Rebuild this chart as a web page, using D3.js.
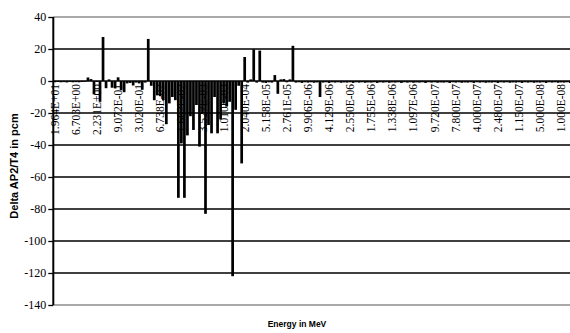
<!DOCTYPE html>
<html><head><meta charset="utf-8">
<script src="https://cdn.jsdelivr.net/npm/d3@7"></script>
<style>
html,body{margin:0;padding:0;background:#fff;}
svg{display:block;}
</style></head>
<body>
<svg id="chart" width="570" height="333"></svg>
<script>
// XMAS 172-group upper energies (MeV)
const energies = [
"1.964E+01","1.733E+01","1.492E+01","1.384E+01","1.162E+01","1.000E+01","8.187E+00","6.703E+00",
"6.065E+00","5.488E+00","4.493E+00","3.679E+00","3.012E+00","2.466E+00","2.231E+00","2.019E+00",
"1.653E+00","1.353E+00","1.225E+00","1.108E+00","1.003E+00","9.072E-01","8.209E-01","6.081E-01",
"5.502E-01","4.979E-01","4.505E-01","4.076E-01","3.020E-01","2.732E-01","2.472E-01","1.832E-01",
"1.228E-01","1.111E-01","8.230E-02","6.738E-02","5.517E-02","4.087E-02","3.698E-02","2.928E-02",
"2.739E-02","2.479E-02","1.662E-02","1.503E-02","1.114E-02","9.119E-03","7.466E-03","5.531E-03",
"5.005E-03","3.527E-03","3.355E-03","2.249E-03","2.035E-03","1.507E-03","1.434E-03","1.234E-03",
"1.010E-03","9.142E-04","7.485E-04","6.773E-04","4.540E-04","3.717E-04","3.043E-04","2.040E-04",
"1.486E-04","1.367E-04","9.166E-05","7.567E-05","6.790E-05","5.560E-05","5.158E-05","4.825E-05",
"4.552E-05","4.017E-05","3.727E-05","3.372E-05","3.051E-05","2.761E-05","2.498E-05","2.260E-05",
"1.945E-05","1.593E-05","1.371E-05","1.122E-05","9.906E-06","9.190E-06","8.315E-06","7.524E-06",
"6.160E-06","5.346E-06","5.043E-06","4.129E-06","4.000E-06","3.381E-06","3.300E-06","2.768E-06",
"2.720E-06","2.600E-06","2.550E-06","2.360E-06","2.130E-06","2.100E-06","2.020E-06","1.930E-06",
"1.840E-06","1.755E-06","1.670E-06","1.590E-06","1.500E-06","1.475E-06","1.445E-06","1.370E-06",
"1.338E-06","1.300E-06","1.235E-06","1.170E-06","1.150E-06","1.125E-06","1.110E-06","1.097E-06",
"1.071E-06","1.045E-06","1.035E-06","1.020E-06","9.960E-07","9.860E-07","9.720E-07","9.500E-07",
"9.300E-07","9.100E-07","8.600E-07","8.500E-07","7.900E-07","7.800E-07","7.050E-07","6.250E-07",
"5.400E-07","5.000E-07","4.850E-07","4.330E-07","4.000E-07","3.910E-07","3.500E-07","3.200E-07",
"3.145E-07","3.000E-07","2.800E-07","2.480E-07","2.200E-07","1.890E-07","1.800E-07","1.600E-07",
"1.400E-07","1.340E-07","1.150E-07","1.000E-07","9.500E-08","8.000E-08","7.700E-08","6.700E-08",
"5.800E-08","5.000E-08","4.200E-08","3.500E-08","3.000E-08","2.500E-08","2.000E-08","1.500E-08",
"1.000E-08","6.900E-09","5.000E-09","3.000E-09"
];

// Delta AP2/T4 (pcm) per group
const deltas = [
-0.8,-0.6,-0.8,-0.7,-0.9,-0.6,-0.8,-0.7,-0.8,-0.6,
-0.5,2.2,1.2,-8.3,-0.6,-13,27.5,-4.5,1,-4.2,
-4.6,2.3,-5.8,-7,-1.5,-1.2,-2.8,-1,-1.5,-5.5,
-1,26.3,-3,-12,-9,-9.5,-12,-27,-14,-10,
-12,-73,-39,-73,-34,-22,-30.6,-15,-41,-20,
-83,-27.5,-32.7,-10,-32.7,-24,-14,-16,-13,-122,
-18,-3,-51.5,15,-1,1,19.8,-1,19,-1,
-1.2,-0.8,-1,3.7,-8,1,1.2,-0.8,1,22,
-1,-0.8,-1.2,-0.8,-1,-0.8,-1.1,-0.9,-10,-1,
-0.8,-1.2,-0.8,-1,-0.8,-1.1,-0.9,-1,-0.8,-1.2,
-0.8,-1,-0.8,-1.1,-0.9,-1,-0.8,-1.2,-0.8,-1,
-0.8,-1.1,-0.9,-1,-0.8,-1.2,-0.8,-1,-0.8,-1.1,
-0.9,-1,-0.8,-1.2,-0.8,-1,-0.8,-1.1,-0.9,-1,
-0.8,-1.2,-0.8,-1,-0.8,-1.1,-0.9,-1,-0.8,-1.2,
-0.8,-1,-0.8,-1.1,-0.9,-1,-0.8,-1.2,-0.8,-1,
-0.8,-1.1,-0.9,-1,-0.8,-1.2,-0.8,-1,-0.8,-1.1,
-0.9,-1,-0.8,-1.2,-0.8,-1,-0.8,-1.1,-0.9,-1,
-0.8,-1.2
];

const yTicks = [40,20,0,-20,-40,-60,-80,-100,-120,-140];
const labelStep = 7;
const xTitle = "Energy in MeV";
const yTitle = "Delta AP2/T4 in pcm";

const svg = d3.select("#chart");
const plotLeft = 53.3, plotRight = 571.7, plotTop = 17, plotBottom = 305;

const x = d3.scaleBand().domain(energies).range([plotLeft, plotRight]).paddingInner(0.1).paddingOuter(0.05);
const y = d3.scaleLinear().domain([-140, 40]).range([plotBottom, plotTop]);

// gridlines
svg.append("g").selectAll("line").data(yTicks).join("line")
  .attr("x1", plotLeft).attr("x2", 570)
  .attr("y1", d => y(d)).attr("y2", d => y(d))
  .attr("stroke", d => (d === 40 || d === -140) ? "#8c8c8c" : "#000")
  .attr("stroke-width", d => (d === 40 || d === -140) ? 1.6 : 1.3);

// x axis (category labels) at zero
const xAxis = d3.axisBottom(x)
  .tickValues(energies.filter((d, i) => i % labelStep === 0))
  .tickSize(0).tickPadding(0);
const gx = svg.append("g").attr("transform", `translate(0,${y(0)})`).call(xAxis);
gx.select(".domain").remove();
gx.selectAll("text")
  .attr("font-family", "'Liberation Serif', 'Times New Roman', serif")
  .attr("font-size", "11.5px")
  .attr("fill", "#000")
  .attr("text-anchor", "end")
  .attr("dy", "0.35em")
  .attr("y", 0)
  .attr("transform", "translate(0,3) rotate(-90)");

// bars
svg.append("g").selectAll("rect").data(deltas).join("rect")
  .attr("x", (d, i) => x(energies[i]))
  .attr("width", x.bandwidth())
  .attr("y", d => y(Math.max(0, d)))
  .attr("height", d => Math.abs(y(d) - y(0)))
  .attr("fill", "#000");

// y axis
const yAxis = d3.axisLeft(y).tickValues(yTicks).tickSize(5).tickPadding(2).tickFormat(d => String(d));
const gy = svg.append("g").attr("transform", `translate(${plotLeft},0)`).call(yAxis);
gy.attr("font-family", null);
gy.select(".domain").attr("stroke", "#000").attr("stroke-width", 2).attr("d", `M0,${plotTop}V${plotBottom}`);
gy.selectAll(".tick line").attr("stroke", "#000").attr("stroke-width", 1.3);
gy.selectAll("text")
  .style("font-family", "'Liberation Serif', 'Times New Roman', serif")
  .style("font-size", "12px").attr("fill", "#000");

// titles
svg.append("text").attr("x", 297).attr("y", 327)
  .attr("text-anchor", "middle")
  .attr("font-family", "'Liberation Sans', Arial, sans-serif")
  .attr("font-weight", "bold").attr("font-size", "8.5px")
  .text(xTitle);
svg.append("text")
  .attr("transform", "translate(17.5,166) rotate(-90)")
  .attr("text-anchor", "middle")
  .attr("font-family", "'Liberation Sans', Arial, sans-serif")
  .attr("font-weight", "bold").attr("font-size", "11px")
  .text(yTitle);
</script>
</body></html>
